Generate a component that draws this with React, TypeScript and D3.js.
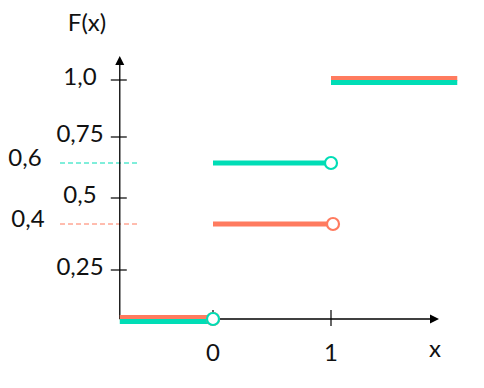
import React from "react";
import * as d3 from "d3";

// Step functions F(x): value on each interval [xBreaks[i], xBreaks[i+1])
const xBreaks = [-0.79, 0, 1, 2.07];
const redValues = [0, 0.4, 1];
const tealValues = [0, 0.6, 1];

const yTicks = [0.25, 0.5, 0.75, 1];
const yTickLabels = ["0,25", "0,5", "0,75", "1,0"];
const xTicks = [0, 1];
const xTickLabels = ["0", "1"];

// side markers for the jump heights
const markerValues = [0.6, 0.4];
const markerLabels = ["0,6", "0,4"];

const W = 484;
const H = 388;
const RED = "#FF7B5F";
const TEAL = "#00DDB6";
const FONT = "Lato, Carlito, 'Noto Sans', sans-serif";
const FS = 24;

// hand-drawn axis: tick spacing is not uniform, so use a piecewise scale
const y = d3
  .scaleLinear()
  .domain([0, 0.25, 0.4, 0.5, 0.6, 0.75, 1])
  .range([319, 270, 224, 198, 163, 137, 80]);
const x = d3.scaleLinear().domain([0, 1]).range([213, 331]);

const AX0 = x(xBreaks[0]);
const AY0 = y(0);

export default function App() {
  const series = [
    { values: redValues, other: tealValues, color: RED, shift: -1.5 },
    { values: tealValues, other: redValues, color: TEAL, shift: 2.5 },
  ];

  return (
    <svg
      width={W}
      height={H}
      style={{ position: "absolute", left: 0, top: 0, background: "#fff" }}
      fontFamily={FONT}
    >
      {/* dashed guides to the jump heights */}
      {markerValues.map((v, i) => (
        <g key={v}>
          <line
            x1={60} x2={138} y1={y(v)} y2={y(v)}
            stroke={i === 0 ? TEAL : RED} strokeWidth={1} strokeDasharray="5 3"
          />
          <text x={i === 0 ? 25 : 28} y={y(v) - 3} textAnchor="middle" dominantBaseline="middle" fontSize={FS} fill="#111">
            {markerLabels[i]}
          </text>
        </g>
      ))}

      {/* y axis */}
      <line x1={AX0} x2={AX0} y1={AY0} y2={63} stroke="#000" strokeWidth={1.3} />
      <path d={`M${AX0},56 L${AX0 - 4.5},65 L${AX0 + 4.5},65 Z`} fill="#000" />
      {yTicks.map((t, i) => (
        <g key={t}>
          <line x1={AX0 - 9} x2={AX0 + 7} y1={y(t)} y2={y(t)} stroke="#000" strokeWidth={1.2} />
          <text x={80} y={y(t) - 1} textAnchor="middle" dominantBaseline="middle" fontSize={FS} fill="#111">
            {yTickLabels[i]}
          </text>
        </g>
      ))}
      <text x={87} y={25} textAnchor="middle" dominantBaseline="middle" fontSize={FS} fill="#111">
        F(x)
      </text>

      {/* x axis */}
      <line x1={AX0} x2={432} y1={AY0} y2={AY0} stroke="#000" strokeWidth={1.3} />
      <path d={`M439,${AY0} L430,${AY0 - 4.5} L430,${AY0 + 4.5} Z`} fill="#000" />
      {xTicks.map((t, i) => (
        <g key={t}>
          <line x1={x(t)} x2={x(t)} y1={AY0 - 9} y2={AY0 + 7} stroke="#000" strokeWidth={1.2} />
          <text x={x(t)} y={355} textAnchor="middle" dominantBaseline="middle" fontSize={FS} fill="#111">
            {xTickLabels[i]}
          </text>
        </g>
      ))}
      <text x={435} y={351} textAnchor="middle" dominantBaseline="middle" fontSize={FS} fill="#111">
        x
      </text>

      {/* step segments */}
      {series.map((s, si) =>
        s.values.map((v, i) => {
          const dy = s.other[i] === v ? s.shift : 0;
          return (
            <line
              key={`${si}-${i}`}
              x1={x(xBreaks[i])} x2={x(xBreaks[i + 1])}
              y1={y(v) + dy} y2={y(v) + dy}
              stroke={s.color} strokeWidth={5}
            />
          );
        })
      )}

      {/* open ends at the jumps */}
      {series.map((s, si) =>
        s.values.slice(0, -1).map((v, i) => (
          <circle
            key={`c${si}-${i}`}
            cx={x(xBreaks[i + 1]) + (si === 0 && i === 1 ? 2 : 0)}
            cy={y(v)}
            r={6}
            fill="#fff"
            stroke={s.color}
            strokeWidth={2.2}
          />
        ))
      )}
    </svg>
  );
}
